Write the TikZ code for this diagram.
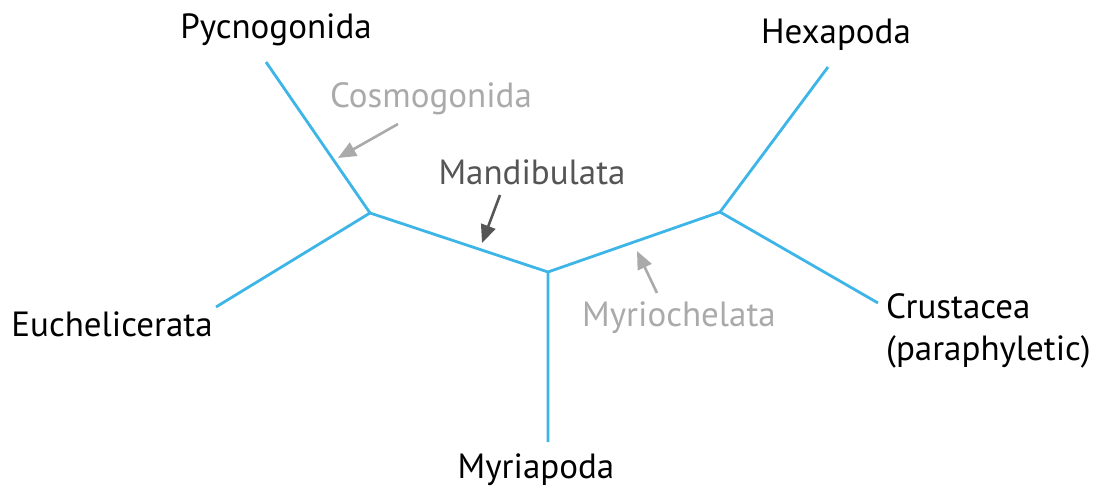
\documentclass[tikz,border=0pt]{standalone}
\usepackage{fontspec}
\setmainfont{PT Sans}
\usetikzlibrary{arrows.meta}
\definecolor{branch}{HTML}{3DB5E6}
\definecolor{lightlbl}{HTML}{AAAAAA}
\definecolor{darklbl}{HTML}{555555}
\begin{document}
\begin{tikzpicture}[x=1pt,y=-1pt,
  br/.style={draw=branch,line width=2.8pt},
  taxon/.style={font=\fontsize{35}{42}\selectfont,text=black,inner sep=0pt},
  clade/.style={font=\fontsize{35}{42}\selectfont,inner sep=0pt},
  ptr/.style={line width=2.6pt,-{Triangle[length=18pt,width=15pt]}}]
\useasboundingbox (0,0) rectangle (1102,489);
% nodes of the tree
\coordinate (A) at (370,213);
\coordinate (B) at (548,272);
\coordinate (C) at (720,212);
\coordinate (pyc) at (266,62);
\coordinate (euc) at (216,307);
\coordinate (myr) at (548,442);
\coordinate (hex) at (828,67);
\coordinate (cru) at (878,303);
\draw[br] (pyc) -- (A) -- (euc);
\draw[br] (A) -- (B) -- (myr);
\draw[br] (B) -- (C) -- (hex);
\draw[br] (C) -- (cru);
% taxon labels
\node[taxon] (lpyc) at (276,30) {Pycnogonida};
\node[taxon] (lhex) at (836,35) {Hexapoda};
\node[taxon] (leuc) at (112,324) {Euchelicerata};
\node[taxon] (lmyr) at (536,470) {Myriapoda};
\node[taxon,align=left,anchor=west] (lcru) at (886,331) {Crustacea\\(paraphyletic)};
% clade labels
\node[clade,text=lightlbl] (lcos) at (431,99) {Cosmogonida};
\node[clade,text=darklbl] (lman) at (532,172) {Mandibulata};
\node[clade,text=lightlbl] (lmch) at (679,318) {Myriochelata};
\coordinate (cosS) at (398,124);
\coordinate (cosE) at (338,158);
\coordinate (manS) at (500,195);
\coordinate (manE) at (482,243);
\coordinate (mchS) at (657,293);
\coordinate (mchE) at (637,251);
\draw[ptr,draw=lightlbl,fill=lightlbl] (cosS) -- (cosE);
\draw[ptr,draw=darklbl,fill=darklbl] (manS) -- (manE);
\draw[ptr,draw=lightlbl,fill=lightlbl] (mchS) -- (mchE);
\end{tikzpicture}
\end{document}
